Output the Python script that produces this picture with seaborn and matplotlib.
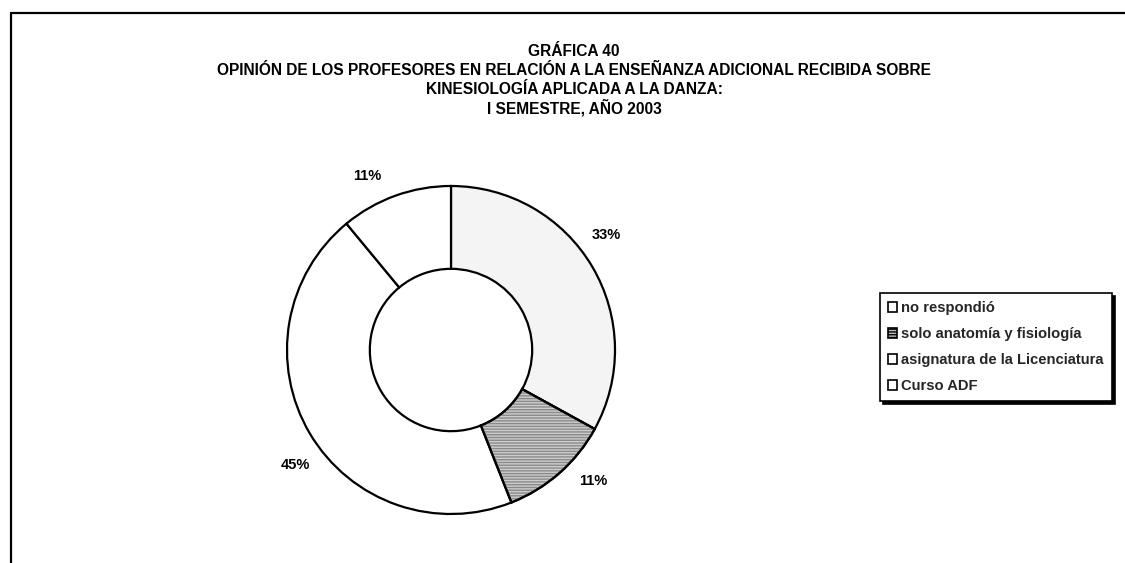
import matplotlib
matplotlib.use("Agg")
import numpy as np
import matplotlib.pyplot as plt
from matplotlib.patches import Patch, Wedge
from matplotlib.lines import Line2D
import seaborn as sns

# Respuestas de los profesores (porcentajes)
categorias = ["no respondió", "solo anatomía y fisiología",
              "asignatura de la Licenciatura", "Curso ADF"]
porcentajes = [33, 11, 45, 11]
colores = ["#f4f4f4", "#cdcdcd", "#ffffff", "#ffffff"]
tramas = [None, "------", None, None]

titulo = ["GRÁFICA 40",
          "OPINIÓN DE LOS PROFESORES EN RELACIÓN A LA ENSEÑANZA ADICIONAL RECIBIDA SOBRE",
          "KINESIOLOGÍA APLICADA A LA DANZA:",
          "I SEMESTRE, AÑO 2003"]

sns.set_theme(style="white")
plt.rcParams["font.family"] = ["Liberation Sans", "DejaVu Sans"]

W, H = 1125, 563
fig = plt.figure(figsize=(W / 100, H / 100), dpi=100)
fig.patch.set_facecolor("white")

# marco de la hoja (superior e izquierdo)
fig.add_artist(Line2D([11 / W, 1.0], [1 - 13 / H, 1 - 13 / H],
                      transform=fig.transFigure, color="black", lw=1.6))
fig.add_artist(Line2D([11 / W, 11 / W], [1 - 13 / H, 0.0],
                      transform=fig.transFigure, color="black", lw=1.6))

# título
for i, linea in enumerate(titulo):
    fig.text(574 / W, 1 - (52 + 18.5 * i) / H, linea, ha="center", va="center",
             fontsize=11.2, fontweight="bold", color="black")

# gráfica de anillo
cx, cy, R = 451, 350, 164
half = 215
ax = fig.add_axes([(cx - half) / W, (H - cy - half) / H, 2 * half / W, 2 * half / H])

wedges, _, autotexts = ax.pie(
    porcentajes, colors=colores, startangle=90, counterclock=False,
    radius=1.0, autopct=lambda p: f"{p:.0f}%", pctdistance=1.18,
    wedgeprops=dict(width=0.505, edgecolor="black", linewidth=1.6),
    textprops=dict(fontsize=10.5, fontweight="bold", color="black"))

lim = half / R
ax.set_xlim(-lim, lim)
ax.set_ylim(-lim, lim)
ax.set_aspect("equal")
ax.axis("off")

for w, trama in zip(wedges, tramas):
    if trama:
        ax.add_patch(Wedge(w.center, w.r, w.theta1, w.theta2, width=w.width,
                           facecolor="none", edgecolor="#8a8a8a", hatch=trama,
                           linewidth=0, zorder=w.get_zorder() + 0.1))
        ax.add_patch(Wedge(w.center, w.r, w.theta1, w.theta2, width=w.width,
                           facecolor="none", edgecolor="black", linewidth=1.6,
                           zorder=w.get_zorder() + 0.2))

# etiquetas de porcentaje algo giradas en sentido antihorario respecto al centro del sector
giro = 6.0
for w, t in zip(wedges, autotexts):
    ang = np.deg2rad((w.theta1 + w.theta2) / 2 + giro)
    t.set_position((1.18 * np.cos(ang), 1.18 * np.sin(ang)))
    t.set_clip_on(False)

# leyenda
manijas = [Patch(facecolor=c, edgecolor="black", hatch=h, linewidth=1.2)
           for c, h in zip(["#ffffff", "#bdbdbd", "#ffffff", "#ffffff"], tramas)]
leg = fig.legend(manijas, categorias, loc="upper left",
                 bbox_to_anchor=(880 / W, 1 - 293 / H), bbox_transform=fig.transFigure,
                 prop=dict(size=10.6, weight="bold"), frameon=True, fancybox=False,
                 handlelength=0.6, handleheight=0.6, handletextpad=0.3,
                 labelspacing=0.82, borderpad=0.55, borderaxespad=0,
                 shadow=dict(color="black", alpha=1.0))
leg.get_frame().set_edgecolor("black")
leg.get_frame().set_linewidth(1.2)

fig.savefig("out.png", dpi=100, facecolor="white")
